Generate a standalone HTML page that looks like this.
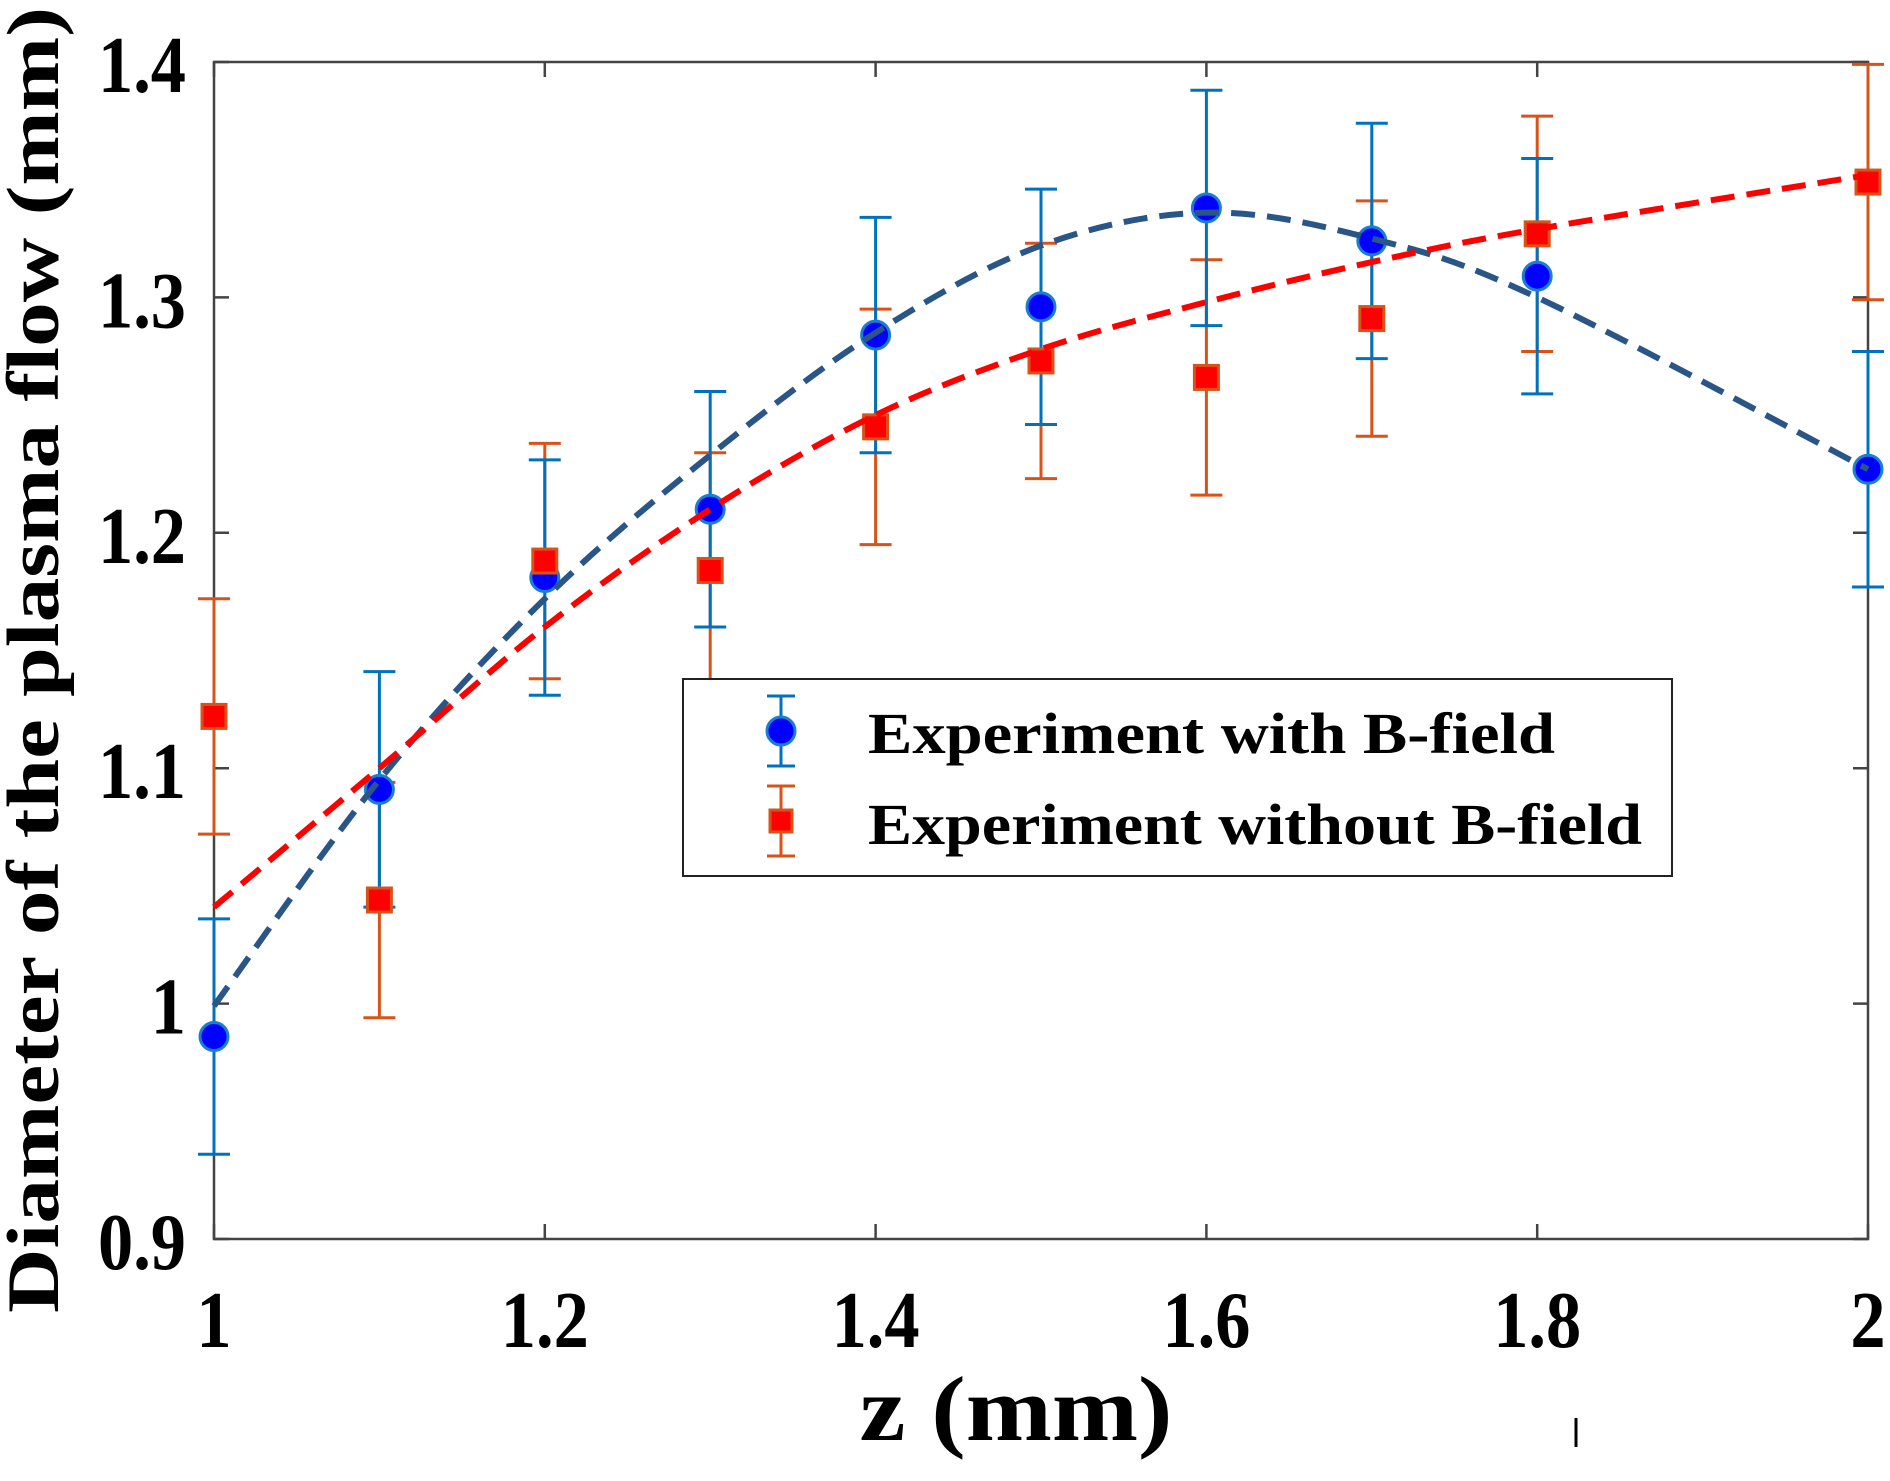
<!DOCTYPE html>
<html><head><meta charset="utf-8"><style>
html,body{margin:0;padding:0;background:#fff;}
svg{display:block;font-family:"Liberation Serif",serif;}
</style></head><body>
<svg id="chart" width="1890" height="1481" viewBox="0 0 1890 1481" xmlns="http://www.w3.org/2000/svg">
<rect x="0" y="0" width="1890" height="1481" fill="#fff"/>
<g id="plot"></g>
<text x="1016" y="1440" font-size="92" font-weight="bold" text-anchor="middle" textLength="313" lengthAdjust="spacingAndGlyphs">z (mm)</text>
<text transform="translate(58,660) rotate(-90)" font-size="74" font-weight="bold" text-anchor="middle" textLength="1306" lengthAdjust="spacingAndGlyphs">Diameter of the plasma flow (mm)</text>
<line x1="1576" y1="1418" x2="1576" y2="1447" stroke="#000" stroke-width="3"/>
<g>
<rect x="683" y="679" width="989" height="197" fill="#fff" stroke="#222" stroke-width="2"/>
<g>
<line x1="781" y1="696" x2="781" y2="766" stroke="#0072BD" stroke-width="3"/>
<line x1="767" y1="696" x2="795" y2="696" stroke="#0072BD" stroke-width="3"/>
<line x1="767" y1="766" x2="795" y2="766" stroke="#0072BD" stroke-width="3"/>
<circle cx="781" cy="731" r="14" fill="#0000ff" stroke="#1b7fd0" stroke-width="3"/>
<text x="868" y="753" font-size="58" font-weight="bold" textLength="687" lengthAdjust="spacingAndGlyphs">Experiment with B-field</text>
</g>
<g>
<line x1="781" y1="786" x2="781" y2="856" stroke="#D95319" stroke-width="3"/>
<line x1="767" y1="786" x2="795" y2="786" stroke="#D95319" stroke-width="3"/>
<line x1="767" y1="856" x2="795" y2="856" stroke="#D95319" stroke-width="3"/>
<rect x="770" y="810" width="22" height="22" fill="#ff0000" stroke="#D95319" stroke-width="3"/>
<text x="868" y="844" font-size="58" font-weight="bold" textLength="774" lengthAdjust="spacingAndGlyphs">Experiment without B-field</text>
</g>
</g>
</svg>
<script>
const xValues = [1.0, 1.1, 1.2, 1.3, 1.4, 1.5, 1.6, 1.7, 1.8, 2.0];
const withB = [0.986, 1.091, 1.181, 1.210, 1.284, 1.296, 1.338, 1.324, 1.309, 1.227];
const withoutB = [1.122, 1.044, 1.188, 1.184, 1.245, 1.273, 1.266, 1.291, 1.327, 1.349];
const errWithB = [0.05, 0.05, 0.05, 0.05, 0.05, 0.05, 0.05, 0.05, 0.05, 0.05];
const errWithoutB = [0.05, 0.05, 0.05, 0.05, 0.05, 0.05, 0.05, 0.05, 0.05, 0.05];
const fitWithB = [0.999, 1.095, 1.172, 1.233, 1.285, 1.322, 1.336, 1.325, 1.300, 1.227];
const fitWithoutB = [1.041, 1.100, 1.160, 1.210, 1.250, 1.278, 1.298, 1.315, 1.329, 1.352];
const xTicks = [1, 1.2, 1.4, 1.6, 1.8, 2];
const xTickLabels = ["1", "1.2", "1.4", "1.6", "1.8", "2"];
const yTicks = [0.9, 1, 1.1, 1.2, 1.3, 1.4];
const yTickLabels = ["0.9", "1", "1.1", "1.2", "1.3", "1.4"];

const L = 214, R = 1868, T = 62, B = 1239;
const sx = v => L + (v - 1) / (2 - 1) * (R - L);
const sy = v => B - (v - 0.9) / (1.4 - 0.9) * (B - T);
const NS = "http://www.w3.org/2000/svg";
const plot = document.getElementById("plot");
function mk(tag, attrs, parent) {
  const e = document.createElementNS(NS, tag);
  for (const k in attrs) e.setAttribute(k, attrs[k]);
  (parent || plot).appendChild(e);
  return e;
}
const box = mk("rect", {x: L, y: T, width: R - L, height: B - T, fill: "none", stroke: "#444", "stroke-width": 2.5});


xTicks.forEach((t, i) => {
  const x = sx(t);
  const tk = mk("path", {d: `M${x},${B}v-15M${x},${T}v15`, stroke: "#444", "stroke-width": 2.5});
  
  
  const lb = mk("text", {transform: `translate(${x},1347) scale(0.88,1)`, "font-size": 80, "font-weight": "bold", "text-anchor": "middle"});
  lb.textContent = xTickLabels[i];
  
  
});
yTicks.forEach((t, i) => {
  const y = sy(t);
  const tk = mk("path", {d: `M${L},${y}h15M${R},${y}h-15`, stroke: "#444", "stroke-width": 2.5});
  
  
  const lb = mk("text", {transform: `translate(186,${y + 30}) scale(0.88,1)`, "font-size": 80, "font-weight": "bold", "text-anchor": "end"});
  lb.textContent = yTickLabels[i];
  
  
});
function smoothPath(xs, ys) {
  const p = xs.map((x, i) => [sx(x), sy(ys[i])]);
  let d = `M${p[0][0]},${p[0][1]}`;
  for (let i = 0; i < p.length - 1; i++) {
    const p0 = p[Math.max(0, i - 1)], p1 = p[i], p2 = p[i + 1], p3 = p[Math.min(p.length - 1, i + 2)];
    const c1 = [p1[0] + (p2[0] - p0[0]) / 6, p1[1] + (p2[1] - p0[1]) / 6];
    const c2 = [p2[0] - (p3[0] - p1[0]) / 6, p2[1] - (p3[1] - p1[1]) / 6];
    d += `C${c1[0]},${c1[1]} ${c2[0]},${c2[1]} ${p2[0]},${p2[1]}`;
  }
  return d;
}
function errorBars(vals, errs, color, name) {
  xValues.forEach((xv, i) => {
    const x = sx(xv), y1 = sy(vals[i] + errs[i]), y2 = sy(vals[i] - errs[i]);
    const e = mk("path", {d: `M${x},${y1}V${y2}M${x - 16},${y1}h32M${x - 16},${y2}h32`, stroke: color, "stroke-width": 3, fill: "none"});
    
    
  });
}
errorBars(withoutB, errWithoutB, "#D95319", "error-bar-without-b");
errorBars(withB, errWithB, "#0072BD", "error-bar-with-b");
xValues.forEach((xv, i) => {
  const c = mk("circle", {cx: sx(xv), cy: sy(withB[i]), r: 14, fill: "#0000ff", stroke: "#1b7fd0", "stroke-width": 3});
  
  
});
xValues.forEach((xv, i) => {
  const s = mk("rect", {x: sx(xv) - 12, y: sy(withoutB[i]) - 12, width: 24, height: 24, fill: "#ff0000", stroke: "#D95319", "stroke-width": 3});
  
  
});
const f1 = mk("path", {d: smoothPath(xValues, fitWithB), fill: "none", stroke: "#2a5587", "stroke-width": 6, "stroke-dasharray": "24,12"});


const f2 = mk("path", {d: smoothPath(xValues, fitWithoutB), fill: "none", stroke: "#ff0000", "stroke-width": 6, "stroke-dasharray": "24,12"});


</script>
</body></html>
